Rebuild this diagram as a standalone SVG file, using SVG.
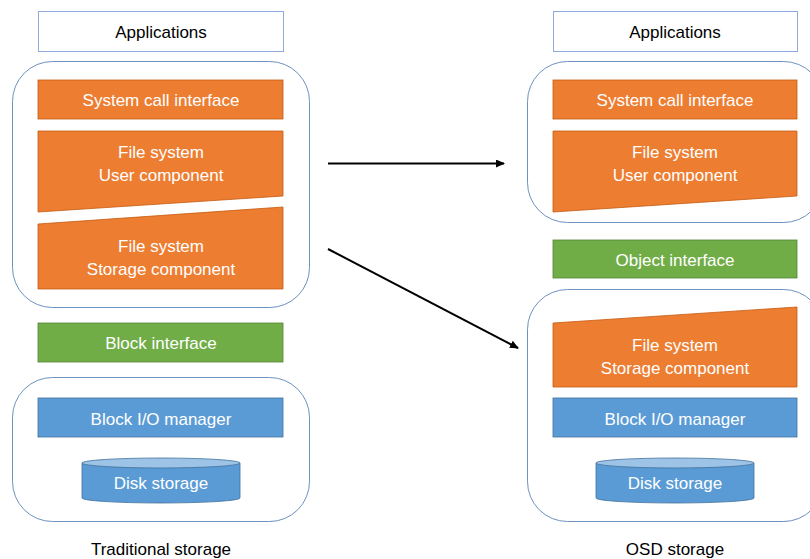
<svg xmlns="http://www.w3.org/2000/svg" width="810" height="559" viewBox="0 0 810 559">
<style>
text{font-family:"Liberation Sans",Arial,sans-serif;font-size:17px;text-anchor:middle}
.w{fill:#fff}
.k{fill:#000}
.app{fill:#fff;stroke:#8faadc;stroke-width:1}
.cont{fill:none;stroke:#6d91c0;stroke-width:1}
.or{fill:#ed7d31;stroke:#c55a11;stroke-width:0.8}
.gr{fill:#70ad47;stroke:#548235;stroke-width:0.8}
.bl{fill:#5b9bd5;stroke:#41719c;stroke-width:0.8}
.top{fill:#9dc3e6;stroke:#41719c;stroke-width:0.8}
.arr{stroke:#000;stroke-width:2;fill:none;marker-end:url(#ah)}
</style>
<defs>
<marker id="ah" markerWidth="4.5" markerHeight="4" refX="4" refY="2" orient="auto" markerUnits="strokeWidth">
<path d="M0,0 L4.5,2 L0,4 z" fill="#000"/>
</marker>
</defs>
<rect width="810" height="559" fill="#fff"/>

<g id="left">
<g id="l-apps"><rect class="app" x="38.5" y="11.5" width="245" height="40"/><text class="k" x="161" y="38">Applications</text></g>
<g id="l-cont1"><rect class="cont" x="12.5" y="61.5" width="297" height="246" rx="40"/></g>
<g id="l-sci"><rect class="or" x="38" y="80" width="245" height="39"/><text class="w" x="161" y="106">System call interface</text></g>
<g id="l-user"><polygon class="or" points="38,131 283,131 283,196 38,212"/><text class="w" x="161" y="158">File system</text><text class="w" x="161" y="181">User component</text></g>
<g id="l-storage"><polygon class="or" points="38,224 283,207 283,289 38,289"/><text class="w" x="161" y="252">File system</text><text class="w" x="161" y="275">Storage component</text></g>
<g id="l-block"><rect class="gr" x="38" y="323" width="245" height="39"/><text class="w" x="161" y="349">Block interface</text></g>
<g id="l-cont2"><rect class="cont" x="12.5" y="377.5" width="297" height="144" rx="40"/></g>
<g id="l-bio"><rect class="bl" x="38" y="398" width="245" height="39"/><text class="w" x="161" y="425">Block I/O manager</text></g>
<g id="l-disk"><path class="bl" d="M82,463 L82,498 A79,5 0 0 0 240,498 L240,463 Z"/><ellipse class="top" cx="161" cy="463" rx="79" ry="5"/><text class="w" x="161" y="489">Disk storage</text></g>
<g id="l-label"><text class="k" x="161" y="555">Traditional storage</text></g>
</g>

<g id="right">
<g id="r-apps"><rect class="app" x="553.5" y="11.5" width="244" height="40"/><text class="k" x="675" y="38">Applications</text></g>
<g id="r-cont1"><rect class="cont" x="527.5" y="61.5" width="296" height="161" rx="40"/></g>
<g id="r-sci"><rect class="or" x="553" y="80" width="244" height="39"/><text class="w" x="675" y="106">System call interface</text></g>
<g id="r-user"><polygon class="or" points="553,131 797,131 797,196 553,212"/><text class="w" x="675" y="158">File system</text><text class="w" x="675" y="181">User component</text></g>
<g id="r-obj"><rect class="gr" x="553" y="240" width="244" height="38"/><text class="w" x="675" y="266">Object interface</text></g>
<g id="r-cont2"><rect class="cont" x="527.5" y="289.5" width="296" height="232" rx="40"/></g>
<g id="r-storage"><polygon class="or" points="553,323 797,307 797,387 553,387"/><text class="w" x="675" y="351">File system</text><text class="w" x="675" y="374">Storage component</text></g>
<g id="r-bio"><rect class="bl" x="553" y="398" width="244" height="39"/><text class="w" x="675" y="425">Block I/O manager</text></g>
<g id="r-disk"><path class="bl" d="M596,463 L596,498 A79,5 0 0 0 754,498 L754,463 Z"/><ellipse class="top" cx="675" cy="463" rx="79" ry="5"/><text class="w" x="675" y="489">Disk storage</text></g>
<g id="r-label"><text class="k" x="675" y="555">OSD storage</text></g>
</g>

<g id="connectors">
<line class="arr" x1="328" y1="163.5" x2="504" y2="163.5"/>
<line class="arr" x1="328" y1="249" x2="518" y2="348"/>
</g>
</svg>
